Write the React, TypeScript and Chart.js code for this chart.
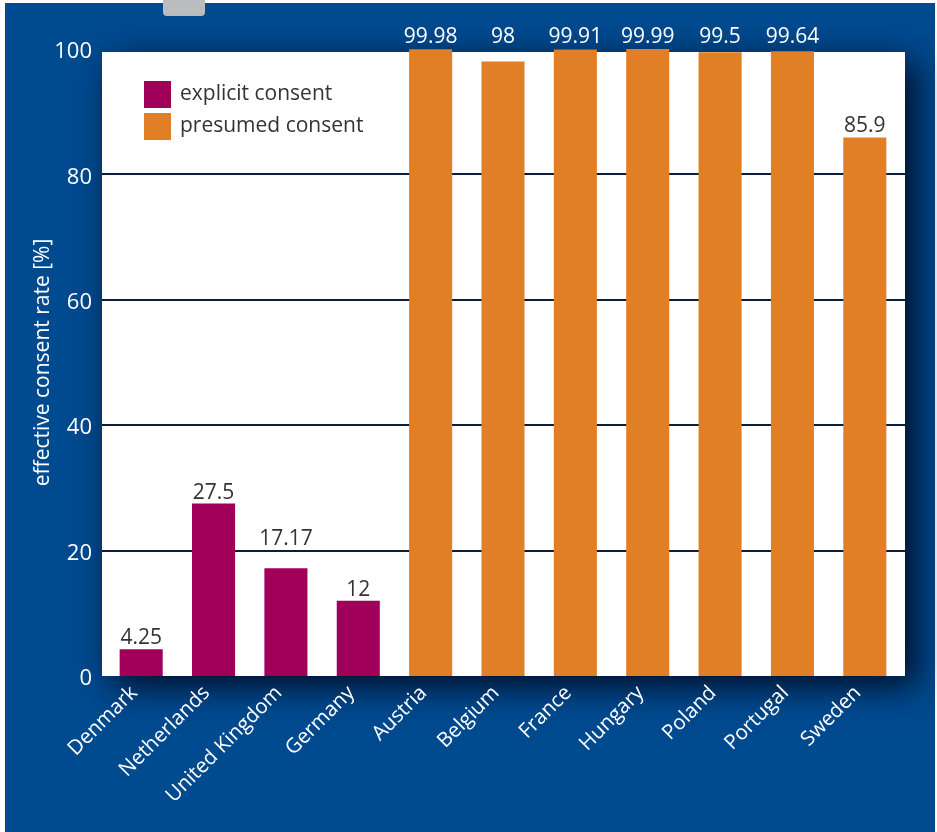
import React, { useEffect, useRef } from "react";
import { Chart, registerables } from "chart.js";

Chart.register(...registerables);

const categories = [
  "Denmark",
  "Netherlands",
  "United Kingdom",
  "Germany",
  "Austria",
  "Belgium",
  "France",
  "Hungary",
  "Poland",
  "Portugal",
  "Sweden",
];
const explicitConsent = [4.25, 27.5, 17.17, 12, null, null, null, null, null, null, null];
const presumedConsent = [null, null, null, null, 99.98, 98, 99.91, 99.99, 99.5, 99.64, 85.9];
const seriesNames = ["explicit consent", "presumed consent"];
const yTitle = "effective consent rate [%]";
const gridValues = [20, 40, 60, 80];

const FONT = "'Open Sans', 'Noto Sans', sans-serif";
const BLUE = "#004a8f";
const MAGENTA = "#a0005a";
const ORANGE = "#e07f26";
const GRID = "#0a1e3c";

function panelRect(chart: any) {
  const a = chart.chartArea;
  return { left: a.left - 3, top: a.top + 3, right: a.right + 4, bottom: a.bottom };
}

const backgroundPlugin = {
  id: "bgPanel",
  beforeDraw(chart: any) {
    const { ctx, width, height } = chart;
    const p = panelRect(chart);
    ctx.save();
    ctx.fillStyle = "#ffffff";
    ctx.fillRect(0, 0, width, height);
    ctx.fillStyle = BLUE;
    ctx.fillRect(5, 3, 930, height - 3);
    // grey scrap at top
    ctx.fillStyle = "#bbbcbe";
    ctx.beginPath();
    (ctx as any).roundRect(163, -6, 42, 22, 4);
    ctx.fill();
    // white plot panel with shadow
    ctx.shadowColor = "rgba(0, 12, 35, 1)";
    ctx.shadowBlur = 32;
    ctx.shadowOffsetX = 11;
    ctx.shadowOffsetY = 10;
    ctx.fillStyle = "#ffffff";
    ctx.fillRect(p.left, p.top, p.right - p.left, p.bottom - p.top);
    ctx.restore();
  },
  beforeDatasetsDraw(chart: any) {
    const { ctx } = chart;
    const p = panelRect(chart);
    const ys = chart.scales.y;
    ctx.save();
    ctx.strokeStyle = GRID;
    ctx.lineWidth = 2;
    gridValues.forEach((v) => {
      const y = Math.round(ys.getPixelForValue(v));
      ctx.beginPath();
      ctx.moveTo(p.left, y);
      ctx.lineTo(p.right, y);
      ctx.stroke();
    });
    ctx.restore();
  },
};

const labelsPlugin = {
  id: "valueLabels",
  afterDatasetsDraw(chart: any) {
    const { ctx, chartArea } = chart;
    const ys = chart.scales.y;
    const gridPx = gridValues.map((v) => ys.getPixelForValue(v));
    ctx.save();
    ctx.font = `21px ${FONT}`;
    ctx.textAlign = "center";
    ctx.textBaseline = "alphabetic";
    chart.data.datasets.forEach((ds: any, di: number) => {
      const meta = chart.getDatasetMeta(di);
      meta.data.forEach((el: any, i: number) => {
        const v = ds.data[i];
        if (v === null || v === undefined) return;
        let y = el.y - 5;
        gridPx.forEach((g) => {
          if (g > y - 17 && g < y + 2) y = g - 6;
        });
        let color = "#333333";
        if (y - 18 < chartArea.top + 3) {
          y = chartArea.top - 6;
          color = "#ffffff";
        }
        ctx.fillStyle = color;
        ctx.fillText(String(v), el.x, y);
      });
    });
    ctx.restore();
  },
};

const legendPlugin = {
  id: "insideLegend",
  afterDraw(chart: any) {
    const { ctx } = chart;
    const p = panelRect(chart);
    ctx.save();
    ctx.font = `21px ${FONT}`;
    ctx.textBaseline = "middle";
    ctx.textAlign = "left";
    chart.data.datasets.forEach((ds: any, i: number) => {
      const x = p.left + 42;
      const y = p.top + 29 + i * 32;
      ctx.fillStyle = ds.backgroundColor;
      ctx.fillRect(x, y, 27, 27);
      ctx.fillStyle = "#333333";
      ctx.fillText(ds.label, x + 36, y + 13);
    });
    ctx.restore();
  },
};

export default function App() {
  const ref = useRef<HTMLCanvasElement | null>(null);
  useEffect(() => {
    if (!ref.current) return;
    const chart = new Chart(ref.current, {
      type: "bar",
      data: {
        labels: categories,
        datasets: [
          {
            label: seriesNames[0],
            data: explicitConsent as any,
            backgroundColor: MAGENTA,
            grouped: false,
            barPercentage: 0.595,
            categoryPercentage: 1,
            clip: false as any,
          },
          {
            label: seriesNames[1],
            data: presumedConsent as any,
            backgroundColor: ORANGE,
            grouped: false,
            barPercentage: 0.595,
            categoryPercentage: 1,
            clip: false as any,
          },
        ],
      },
      options: {
        animation: false,
        responsive: false,
        layout: { padding: { top: 49, right: 36, left: 0, bottom: 0 } },
        plugins: {
          legend: { display: false },
          tooltip: { enabled: false },
        },
        scales: {
          x: {
            grid: { display: false },
            border: { display: false },
            ticks: {
              color: "#ffffff",
              font: { family: FONT, size: 20.5 },
              maxRotation: 45,
              minRotation: 45,
              padding: -3,
              labelOffset: -7,
            },
            afterFit(scale: any) {
              scale.height = 156;
            },
          },
          y: {
            min: 0,
            max: 100,
            border: { display: false },
            grid: { display: false, drawTicks: false },
            ticks: {
              stepSize: 20,
              color: "#ffffff",
              font: { family: FONT, size: 22 },
              padding: 13,
              labelOffset: 3,
            },
            title: {
              display: true,
              text: yTitle,
              color: "#ffffff",
              font: { family: FONT, size: 21 },
              padding: { top: 30, bottom: 0 },
            },
            afterFit(scale: any) {
              scale.width = 105;
            },
          },
        },
      },
      plugins: [backgroundPlugin, labelsPlugin, legendPlugin],
    });
    return () => chart.destroy();
  }, []);
  return (
    <div style={{ position: "fixed", left: 0, top: 0, width: 937, height: 832 }}>
      <canvas ref={ref} width={937} height={832} style={{ display: "block" }} />
    </div>
  );
}
